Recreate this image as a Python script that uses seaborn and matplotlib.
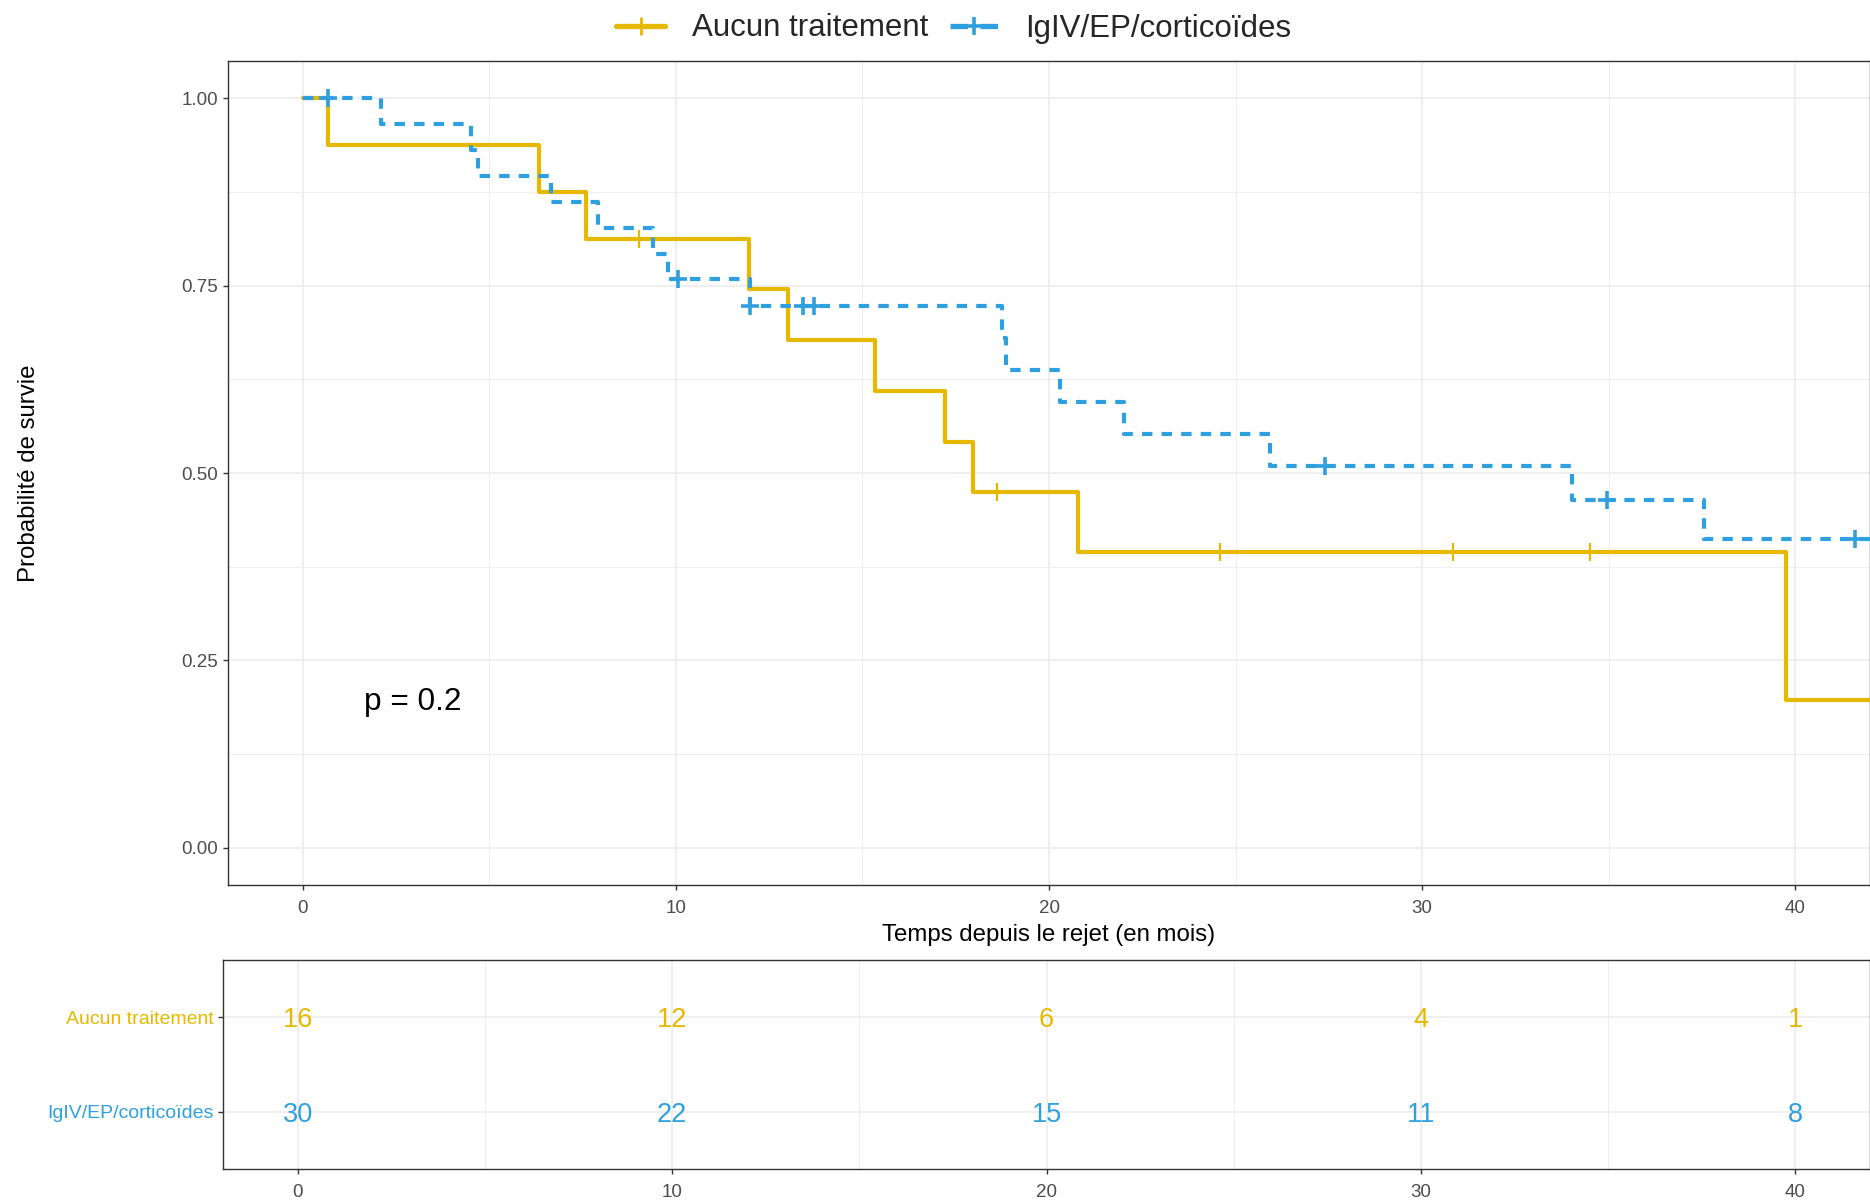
import matplotlib
matplotlib.use("Agg")
import matplotlib.pyplot as plt
from matplotlib.lines import Line2D
import seaborn as sns
import pandas as pd

# ---------------- data ----------------
groups = ["Aucun traitement", "IgIV/EP/corticoïdes"]
colors = ["#E7B800", "#2E9FDF"]

# Kaplan-Meier steps: Aucun traitement
aucun_time = [0, 0.67, 6.33, 7.6, 11.95, 13.0, 15.33, 17.2, 17.96, 20.77, 39.74, 43]
aucun_surv = [1.0, 0.9375, 0.875, 0.8125, 0.745, 0.677, 0.609, 0.542, 0.474, 0.395, 0.1975, 0.1975]
aucun_cens_time = [9.0, 18.6, 24.57, 30.83, 34.5]
aucun_cens_surv = [0.8125, 0.474, 0.395, 0.395, 0.395]

# Kaplan-Meier steps: IgIV/EP/corticoides
igiv_time = [0, 2.1, 4.5, 4.7, 6.65, 7.91, 9.39, 9.8, 11.98, 18.75, 18.85, 20.3, 22.0, 25.92, 34.02, 37.54, 43]
igiv_surv = [1.0, 0.9655, 0.931, 0.8966, 0.862, 0.8276, 0.793, 0.7586, 0.7225, 0.68, 0.6375, 0.595,
             0.5525, 0.51, 0.4636, 0.412, 0.412]
igiv_cens_time = [0.67, 10.05, 12.0, 13.4, 13.7, 27.4, 34.94, 41.6]
igiv_cens_surv = [1.0, 0.7586, 0.7225, 0.7225, 0.7225, 0.51, 0.4636, 0.412]

# Risk table
risk_times = [0, 10, 20, 30, 40]
risk_aucun = [16, 12, 6, 4, 1]
risk_igiv = [30, 22, 15, 11, 8]

x_ticks = [0, 10, 20, 30, 40]
y_ticks = [0.0, 0.25, 0.5, 0.75, 1.0]
y_tick_labels = ["0.00", "0.25", "0.50", "0.75", "1.00"]
p_text = "p = 0.2"
x_label = "Temps depuis le rejet (en mois)"
y_label = "Probabilité de survie"

# ---------------- style ----------------
sns.set_style("white")
plt.rcParams["font.family"] = ["Liberation Sans", "DejaVu Sans"]

W, H = 1870, 1201
fig = plt.figure(figsize=(W / 100, H / 100), dpi=100)

tick_col = "#4D4D4D"
spine_col = "#333333"
grid_col = "#EBEBEB"

ax = fig.add_axes([228 / W, 1 - 885 / H, (W - 228) / W, (885 - 61) / H])
ax2 = fig.add_axes([223 / W, 1 - 1169 / H, (W - 223) / W, (1169 - 960) / H])

lw = 3.0
dash = (0, (2.5, 2.2))

df_a = pd.DataFrame({"t": aucun_time, "s": aucun_surv})
df_b = pd.DataFrame({"t": igiv_time, "s": igiv_surv})
sns.lineplot(data=df_a, x="t", y="s", drawstyle="steps-post", estimator=None, sort=False,
             color=colors[0], linewidth=lw, ax=ax, zorder=3)
sns.lineplot(data=df_b, x="t", y="s", drawstyle="steps-post", estimator=None, sort=False,
             color=colors[1], linewidth=lw, linestyle=dash, ax=ax, zorder=4)

sns.scatterplot(x=aucun_cens_time, y=aucun_cens_surv, marker="+", s=160, linewidth=1.6,
                color=colors[0], ax=ax, zorder=5)
sns.scatterplot(x=igiv_cens_time, y=igiv_cens_surv, marker="+", s=160, linewidth=2.6,
                color=colors[1], ax=ax, zorder=6)

ax.set_xlim(-2, 42)
ax.set_ylim(-0.05, 1.05)
ax.set_xticks(x_ticks)
ax.set_xticks([5, 15, 25, 35], minor=True)
ax.set_yticks(y_ticks)
ax.set_yticklabels(y_tick_labels)
ax.set_yticks([0.125, 0.375, 0.625, 0.875], minor=True)
ax.grid(which="major", color=grid_col, linewidth=1.1, zorder=0)
ax.grid(which="minor", color=grid_col, linewidth=0.55, zorder=0)
ax.set_axisbelow(True)
ax.tick_params(which="major", length=3.5, width=1.0, color=spine_col, labelsize=13.5,
               labelcolor=tick_col, pad=3.5, bottom=True, left=True)
ax.tick_params(axis="x", pad=7)
ax.tick_params(which="minor", length=0)
for sp in ax.spines.values():
    sp.set_color(spine_col)
    sp.set_linewidth(1.0)
ax.set_xlabel(x_label, fontsize=17.3, color="black", labelpad=5.5)
ax.set_ylabel(y_label, fontsize=17.3, color="black")
ax.yaxis.set_label_coords((40 - 228) / (W - 228), 0.5)

ax.text(1.65, 0.194, p_text, fontsize=22.8, ha="left", va="center", color="black")

# ---------------- risk table ----------------
for yrow, vals, col in [(2, risk_aucun, colors[0]), (1, risk_igiv, colors[1])]:
    for t, v in zip(risk_times, vals):
        ax2.text(t, yrow, str(v), color=col, fontsize=19.5, ha="center", va="center_baseline")

ax2.set_xlim(-2, 42)
ax2.set_ylim(0.4, 2.6)
ax2.set_xticks(x_ticks)
ax2.set_xticks([5, 15, 25, 35], minor=True)
ax2.set_yticks([2, 1])
ax2.set_yticklabels(groups)
for lab, col in zip(ax2.get_yticklabels(), colors):
    lab.set_color(col)
ax2.grid(which="major", color=grid_col, linewidth=1.1, zorder=0)
ax2.grid(which="minor", axis="x", color=grid_col, linewidth=0.55, zorder=0)
ax2.set_axisbelow(True)
ax2.tick_params(which="major", length=3.5, width=1.0, color=spine_col, labelsize=13.5,
                pad=3.5, bottom=True, left=True)
ax2.tick_params(axis="x", labelcolor=tick_col, pad=7)
ax2.tick_params(axis="y", labelsize=14)
ax2.tick_params(which="minor", length=0)
for sp in ax2.spines.values():
    sp.set_color(spine_col)
    sp.set_linewidth(1.0)
ax2.set_xlabel("")
ax2.set_ylabel("")

# ---------------- legend ----------------
handles = [
    Line2D([], [], color=colors[0], linewidth=3.8, marker="+", markersize=13, markeredgewidth=2.0),
    Line2D([], [], color=colors[1], linewidth=3.8, linestyle=(0, (3.3, 2.4)), marker="+",
           markersize=13, markeredgewidth=2.6),
]
fig.legend(handles, groups, loc="center", bbox_to_anchor=(954 / W, 1 - 28.5 / H), ncol=2,
           frameon=False, fontsize=22.5, handlelength=1.57, handletextpad=0.86,
           columnspacing=0.67, borderpad=0.2)

fig.savefig("out.png", dpi=100)
